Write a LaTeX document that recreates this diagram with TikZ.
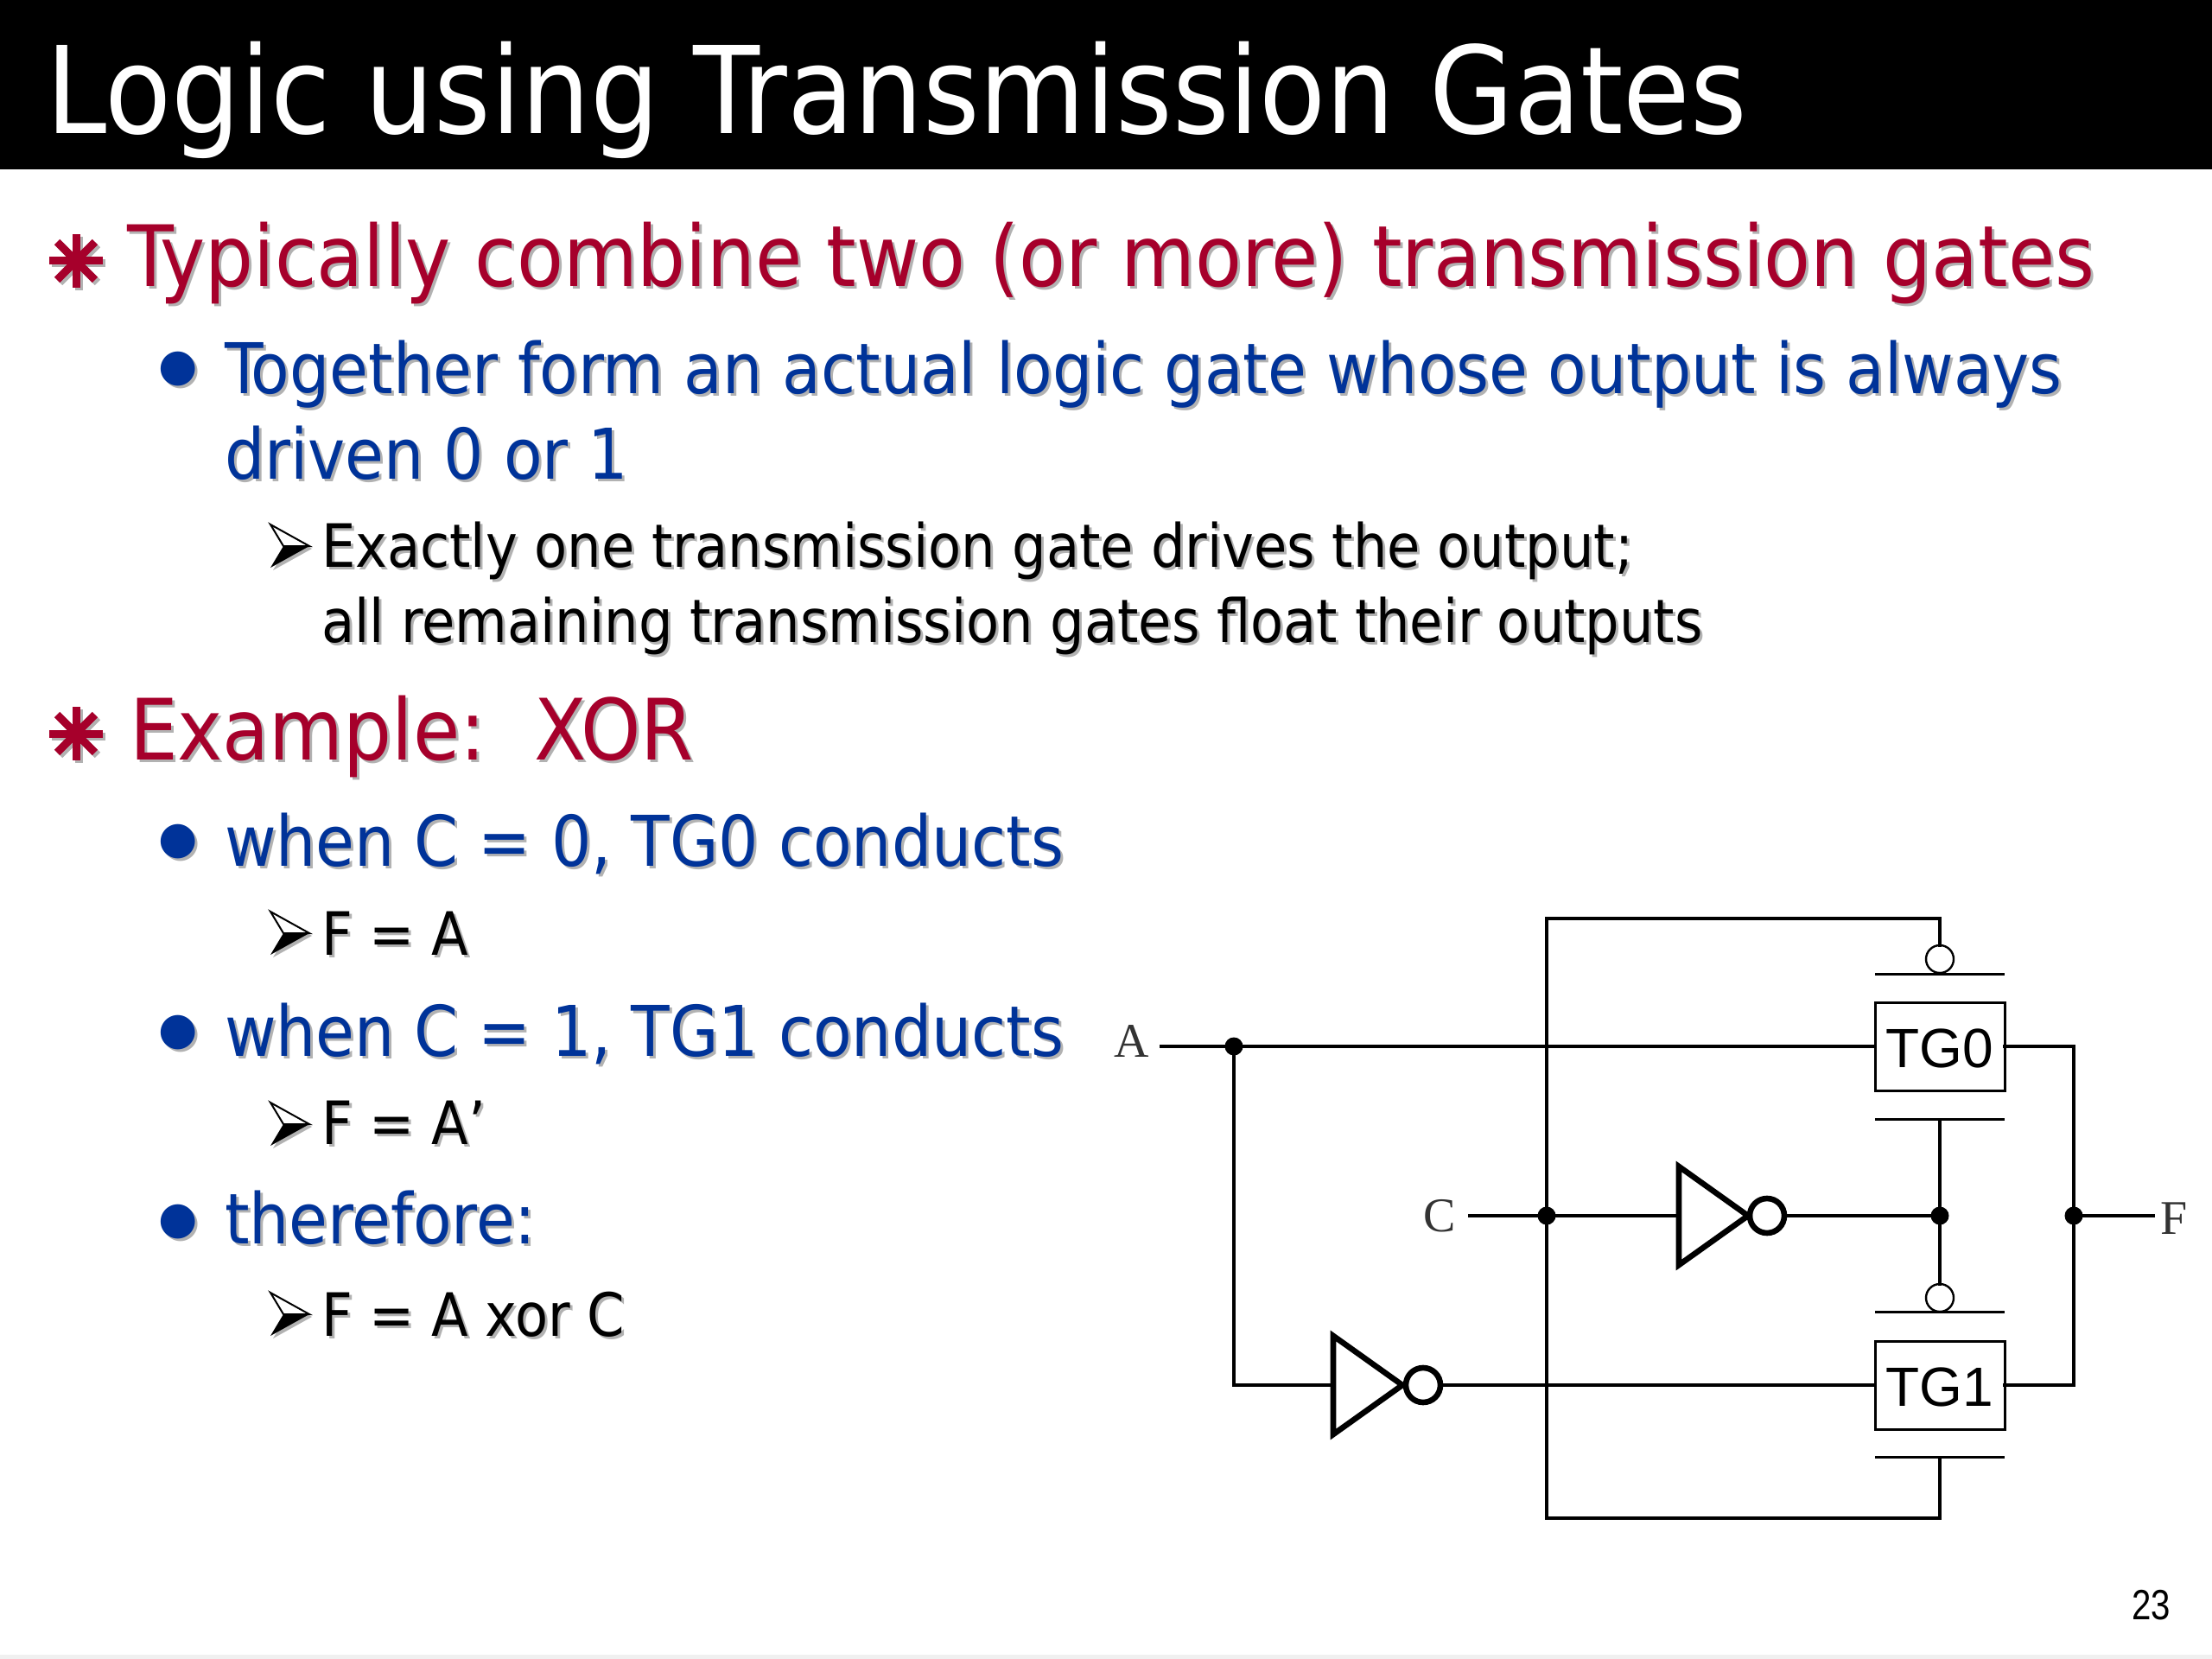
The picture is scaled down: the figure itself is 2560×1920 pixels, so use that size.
\documentclass[tikz,border=0pt]{standalone}
\usepackage{fontspec}
\setmainfont{DejaVu Sans Condensed}
\newfontfamily\symfont{DejaVu Sans}
\newfontfamily\pinfont{Liberation Serif}
\newfontfamily\boxfont{Liberation Sans}
\newfontfamily\pagefont[FakeStretch=0.82]{Liberation Sans}
\usetikzlibrary{positioning}
\usetikzlibrary{shapes.geometric}

\definecolor{slidered}{RGB}{166,0,43}
\definecolor{slideblue}{RGB}{0,51,153}
\newcommand{\shadowed}[2][black]{\makebox[0pt][l]{\hspace{1.5pt}\raisebox{-1.5pt}{\textcolor{black!30}{#2}}}\textcolor{#1}{#2}}

\begin{document}
\begin{tikzpicture}[
x=0.5pt,y=-0.5pt,
every node/.style={inner sep=0pt,outer sep=0pt},
titletext/.style={anchor=base west,text=white,font=\fontsize{70}{70}\selectfont},
levelone/.style={anchor=base west,font=\fontsize{49}{49}\selectfont},
leveltwo/.style={anchor=base west,font=\fontsize{40.5}{40.5}\selectfont},
levelthree/.style={anchor=base west,font=\fontsize{34.6}{34.6}\selectfont},
dotmark/.style={font=\symfont\fontsize{26}{26}\selectfont},
% The circuit:
wire/.style={line width=2pt,line cap=rect},
tgbox/.style={rectangle,draw,line width=1.5pt,fill=white,minimum width=75pt,minimum height=51pt,
	text height=24.5pt,text depth=0pt,font=\boxfont\fontsize{32}{32}\selectfont},
gatebar/.style={rectangle,fill=black,minimum width=75pt,minimum height=1.5pt},
gatebub/.style={circle,draw,line width=1.2pt,minimum size=16pt},
invbody/.style={isosceles triangle,isosceles triangle stretches,draw,line width=3.3pt,
	minimum width=57pt,minimum height=40pt,anchor=lower side},
invbub/.style={circle,draw,line width=3.3pt,minimum size=20pt},
junction/.style={circle,fill=black,minimum size=10.5pt},
pinlabel/.style={font=\pinfont\fontsize{28}{28}\selectfont,text=black!80},
]

\useasboundingbox (0,0) rectangle (2560,1920);
\fill[black] (0,0) rectangle (2560,196);
\fill[black!6] (0,1915) rectangle (2560,1920);

\node (title) [titletext] at (54,155) {Logic using Transmission Gates};

% The first level marks:
\foreach \sy in {302,849} {
	\foreach \a in {0,45,90,135} {
		\draw[black!30,line width=4.5pt] ([shift={(\a:31)}]91,\sy+3) -- ([shift={(\a+180:31)}]91,\sy+3);
	}
	\foreach \a in {0,45,90,135} {
		\draw[slidered,line width=4.5pt] ([shift={(\a:31)}]88,\sy) -- ([shift={(\a+180:31)}]88,\sy);
	}
}
% The third level marks:
\foreach \ay in {632,1080,1301,1521} {
	\fill[black!30] (316,\ay-22) -- (361,\ay+3) -- (316,\ay+28) -- (331,\ay+3) -- cycle;
	\draw[fill=white,line width=1pt,line join=miter] (313,\ay-25) -- (358,\ay) -- (328,\ay) -- cycle;
	\fill[black] (313,\ay+25) -- (358,\ay) -- (328,\ay) -- cycle;
}

\node (head1) [levelone] at (147,332) {\shadowed[slidered]{Typically combine two (or more) transmission gates}};
\node (dot1) [dotmark] at (206,429) {\shadowed[slideblue]{●}};
\node (sub1a) [leveltwo] at (260,456) {\shadowed[slideblue]{Together form an actual logic gate whose output is always}};
\node (sub1b) [leveltwo] at (260,554) {\shadowed[slideblue]{driven 0 or 1}};
\node (note1a) [levelthree] at (372,656) {\shadowed{Exactly one transmission gate drives the output;}};
\node (note1b) [levelthree] at (372,743) {\shadowed{all remaining transmission gates float their outputs}};

\node (head2) [levelone] at (150,879) {\shadowed[slidered]{Example:\ \ XOR}};
\node (dot2) [dotmark] at (206,976) {\shadowed[slideblue]{●}};
\node (sub2) [leveltwo] at (260,1002) {\shadowed[slideblue]{when C = 0, TG0 conducts}};
\node (note2) [levelthree] at (372,1105) {\shadowed{F = A}};
\node (dot3) [dotmark] at (206,1197) {\shadowed[slideblue]{●}};
\node (sub3) [leveltwo] at (260,1222) {\shadowed[slideblue]{when C = 1, TG1 conducts}};
\node (note3) [levelthree] at (372,1324) {\shadowed{F = A’}};
\node (dot4) [dotmark] at (206,1416) {\shadowed[slideblue]{●}};
\node (sub4) [leveltwo] at (260,1439) {\shadowed[slideblue]{therefore:}};
\node (note4) [levelthree] at (372,1546) {\shadowed{F = A xor C}};

\node (pageno) [anchor=base east,font=\pagefont\fontsize{24.5}{24.5}\selectfont] at (2512,1874) {23};

% The gates:
\node (TG0) [tgbox] at (2245,1211) {TG0};
\node (bar0t) [gatebar] at (2245,1127) {};
\node (bar0b) [gatebar] at (2245,1295) {};
\node (bub0) [gatebub] at (2245,1110) {};
\node (TG1) [tgbox] at (2245,1603) {TG1};
\node (bar1t) [gatebar] at (2245,1518) {};
\node (bar1b) [gatebar] at (2245,1686) {};
\node (bub1) [gatebub] at (2245,1502) {};
\node (inv1) [invbody] at (1943,1407) {};
\node (inv1b) [invbub] at (2045,1407) {};
\node (inv2) [invbody] at (1543,1603) {};
\node (inv2b) [invbub] at (1647,1603) {};

% The junctions:
\node (dotA) [junction] at (1428,1211) {};
\node (dotC) [junction] at (1790,1407) {};
\node (dotG) [junction] at (2245,1407) {};
\node (dotF) [junction] at (2400,1407) {};
\coordinate (topc) at (2245,1063);
\coordinate (botc) at (2245,1757);
\coordinate (pinA) at (1344,1211);
\coordinate (pinF) at (2492,1407);

% The pins:
\node (A) [pinlabel,anchor=east,inner xsep=7pt] at (1344,1205) {A};
\node (C) [pinlabel,anchor=east,inner xsep=8pt] at (1701,1407) {C};
\node (F) [pinlabel,anchor=west,inner xsep=4pt] at (2492,1410) {F};

\draw[wire] (pinA) -- (dotA) -- (TG0);
\draw[wire] (dotA) |- (inv2.lower side);
\draw[wire] (inv2b) -- (TG1);
\draw[wire] (TG0) -| (dotF);
\draw[wire] (TG1) -| (dotF);
\draw[wire] (dotF) -- (pinF);
\draw[wire] (C) -- (dotC) -- (inv1.lower side);
\draw[wire] (inv1b) -- (dotG);
\draw[wire] (dotC) |- (topc) -- (bub0);
\draw[wire] (dotC) |- (botc) -- (bar1b);
\draw[wire] (bar0b) -- (dotG) -- (bub1);
\end{tikzpicture}
\end{document}
